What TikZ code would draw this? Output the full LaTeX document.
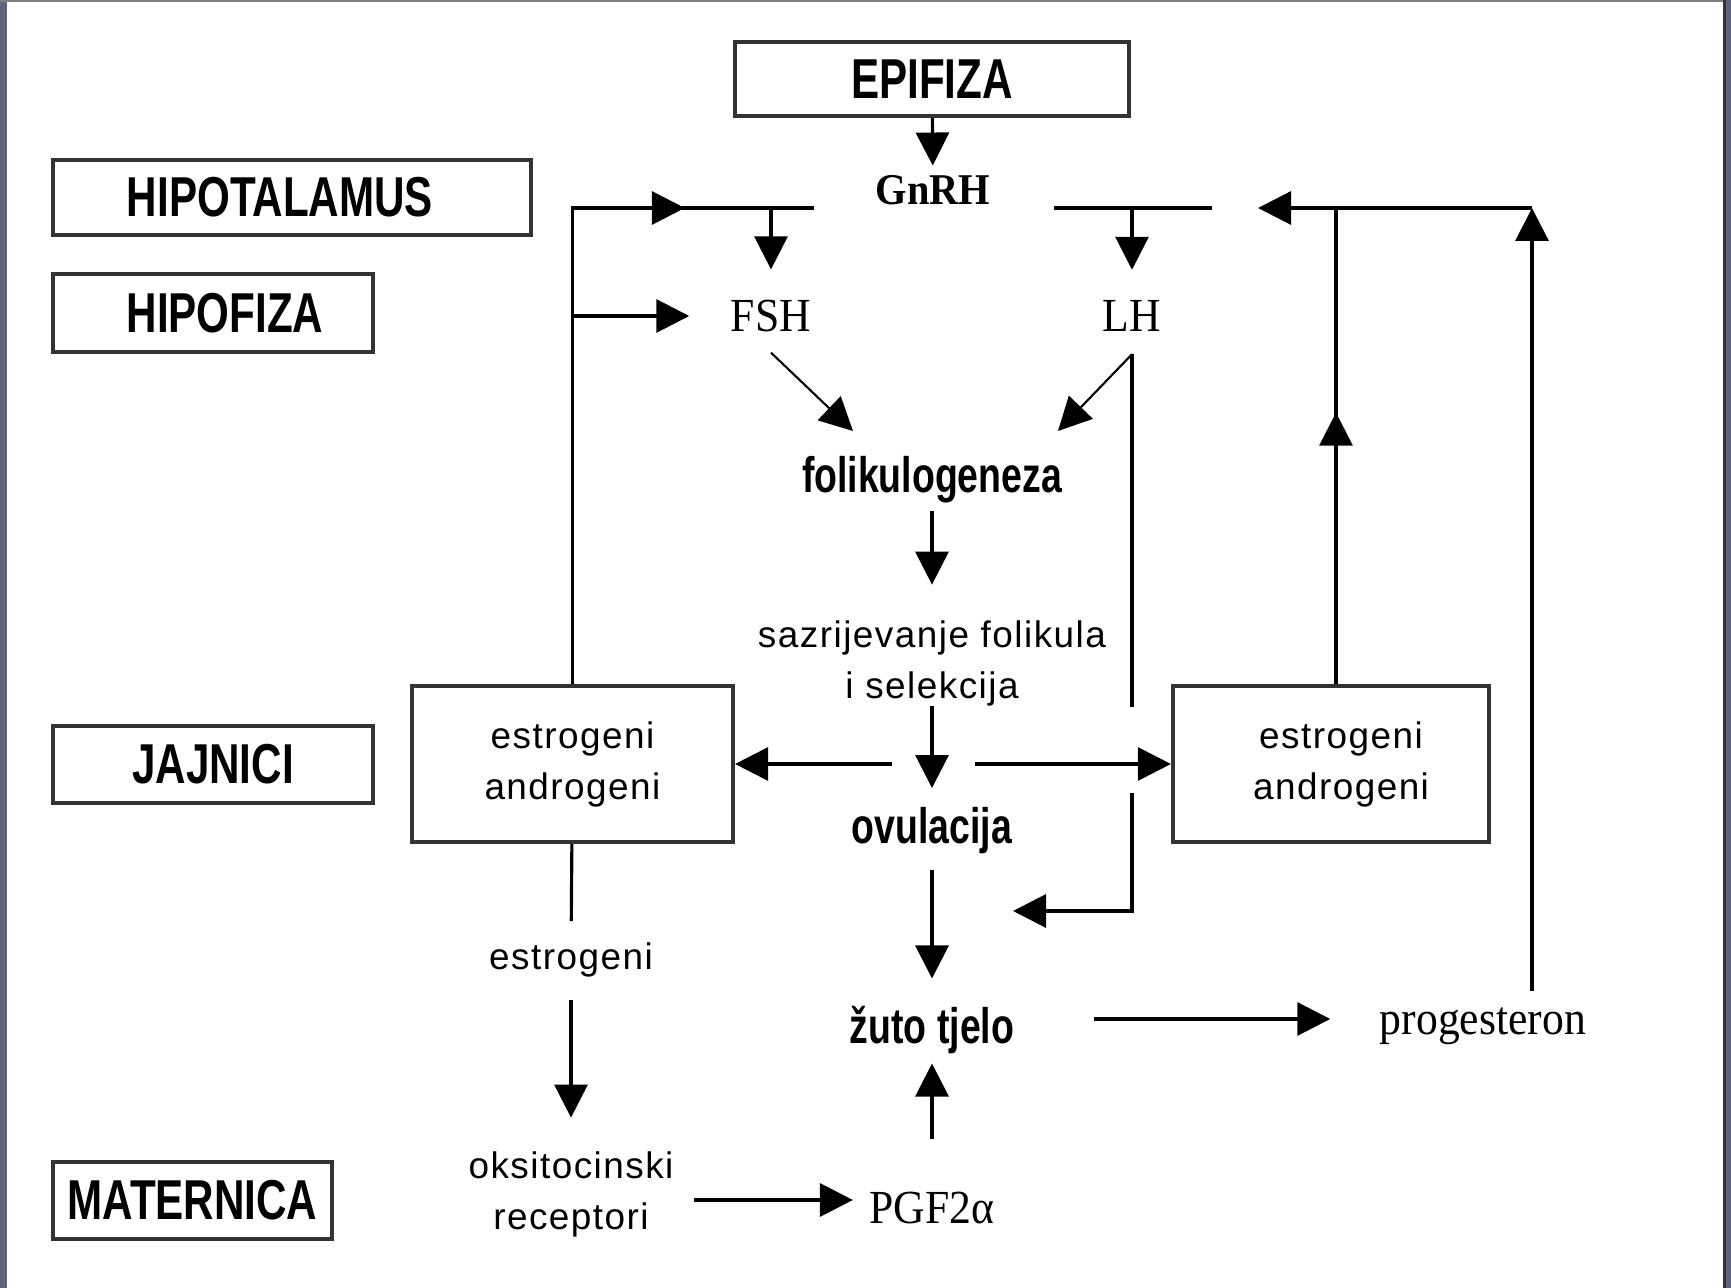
\documentclass[tikz,border=0pt]{standalone}
\usepackage{fontspec}
\usetikzlibrary{arrows.meta,decorations.markings}

\newfontfamily\organfont[FakeStretch=0.75]{Liberation Sans}
\newfontfamily\procfont[LetterSpace=4]{Liberation Sans}
\newfontfamily\hormfont[FakeStretch=0.92]{Liberation Serif}

\definecolor{edge}{RGB}{95,100,125}

\tikzstyle{organ} = [draw=black!80, line width=1.2pt, rectangle, inner sep=0mm,
                     font=\organfont\bfseries\fontsize{16}{19}\selectfont]
\tikzstyle{gland} = [draw=black!80, line width=1.2pt, rectangle, inner sep=0mm,
                     align=center, font=\procfont\fontsize{10.5}{14.5}\selectfont]
\tikzstyle{proc}  = [inner sep=0mm, align=center,
                     font=\procfont\fontsize{10.5}{14.5}\selectfont]
\tikzstyle{stage} = [inner sep=0mm, font=\organfont\bfseries\fontsize{14.2}{17}\selectfont]
\tikzstyle{horm}  = [inner sep=0mm, font=\hormfont\fontsize{13.5}{16}\selectfont]
\tikzstyle{flow}  = [line width=0.9pt, ->]
\tikzset{midflow/.style={line width=0.9pt, postaction={decorate},
    decoration={markings, mark=at position #1 with {\arrow{>}}}}}

\begin{document}
\begin{tikzpicture}[>={Triangle[length=3.3mm,width=3.3mm]}]

\useasboundingbox (0,0) rectangle (17.31cm,-12.88cm);

% frame
\fill[edge] (0,0) rectangle (0.07cm,-12.88cm);
\fill[gray] (0,0) rectangle (17.31cm,-0.025cm);
\fill[black!80] (17.23cm,0) rectangle (17.26cm,-12.88cm);
\fill[edge] (17.26cm,0) rectangle (17.31cm,-12.88cm);

% organs
\node[organ,minimum width=3.94cm,minimum height=7.4mm]
     at (9.32cm,-0.79cm)
     (epi) {EPIFIZA};
\node[organ,minimum width=4.78cm,minimum height=7.5mm]
     at (2.92cm,-1.975cm)
     (hipot) {HIPOTALAMUS\hspace*{2.4mm}};
\node[organ,minimum width=3.2cm,minimum height=7.8mm]
     at (2.13cm,-3.13cm)
     (hipof) {\hspace*{2.4mm}HIPOFIZA};
\node[organ,minimum width=3.2cm,minimum height=7.7mm]
     at (2.13cm,-7.645cm)
     (jajn) {JAJNICI};
\node[organ,minimum width=2.79cm,minimum height=7.7mm]
     at (1.925cm,-12.005cm)
     (mat) {MATERNICA};

\node[gland,minimum width=3.21cm,minimum height=1.56cm]
     at (5.725cm,-7.64cm)
     (estL) {estrogeni\\androgeni};
\node[gland,minimum width=3.16cm,minimum height=1.56cm]
     at (13.31cm,-7.64cm)
     (estR) {\hspace*{2mm}estrogeni\\\hspace*{2mm}androgeni};

% hormones and stages
\node[horm,font=\hormfont\bfseries\fontsize{12.5}{15}\selectfont]
     at (9.33cm,-1.9cm) (gnrh) {GnRH};
\node[horm] at (7.71cm,-3.16cm) (fsh) {FSH};
\node[horm] at (11.32cm,-3.16cm) (lh) {LH};
\node[stage] at (9.32cm,-4.8cm) (foli) {folikulogeneza};
\node[proc] at (9.32cm,-6.63cm) (sazr) {sazrijevanje folikula\\i selekcija};
\node[stage] at (9.32cm,-8.31cm) (ovul) {ovulacija};
\node[stage] at (9.32cm,-10.3cm) (zuto) {žuto tjelo};
\node[horm] at (14.83cm,-10.26cm) (prog) {progesteron};
\node[proc] at (5.71cm,-9.6cm) (estro) {estrogeni};
\node[proc] at (5.71cm,-11.94cm) (oksi) {oksitocinski\\receptori};
\node[horm] at (9.32cm,-12.08cm) (pgf) {PGF2α};

\coordinate (barL) at (8.14cm,-2.08cm);
\coordinate (barR) at (10.54cm,-2.08cm);
\coordinate (barRR) at (12.12cm,-2.08cm);
\coordinate (corner) at (15.32cm,-2.08cm);
\coordinate (tipR) at (12.58cm,-2.08cm);
\coordinate (fsIn) at (8.53cm,-4.31cm);
\coordinate (lhIn) at (10.58cm,-4.31cm);
\coordinate (lhGapT) at (11.32cm,-7.07cm);
\coordinate (lhGapB) at (11.32cm,-7.93cm);
\coordinate (lhOut) at (10.13cm,-9.11cm);
\coordinate (ovL) at (8.92cm,-7.64cm);
\coordinate (ovR) at (9.75cm,-7.64cm);

% hypothalamus level
\draw[flow,shorten >=0.9mm] (epi) -- (gnrh);
\draw[midflow=0.82] (estL.north) |- (barL);
\draw[flow,shorten >=4.1mm] (estL.north |- fsh) -- (fsh);
\draw[flow,shorten >=3mm] (fsh |- barL) -- (fsh);
\draw[line width=0.9pt] (barR) -- (barRR);
\draw[flow,shorten >=3mm] (lh |- barL) -- (lh);

% FSH, LH
\draw[->,line width=0.6pt] ([yshift=-2mm]fsh.south) -- (fsIn);
\draw[->,line width=0.6pt] ([yshift=-2.2mm]lh.south) -- (lhIn);
\draw[line width=0.9pt] ([yshift=-2.2mm]lh.south) -- (lhGapT);
\draw[flow] (lhGapB) |- (lhOut);

% ovary
\draw[flow,shorten <=0.7mm,shorten >=3.5mm] (foli) -- (sazr);
\draw[flow,shorten >=1.9mm] (sazr) -- (ovul);
\draw[flow] (ovL) -- (ovL -| estL.east);
\draw[flow] (ovR) -- (ovR -| estR.west);
\draw[flow,shorten <=1.5mm,shorten >=2.7mm] (ovul) -- (zuto);
\draw[flow,shorten <=5.2mm,shorten >=0.9mm] (pgf) -- (zuto);
\draw[flow,shorten <=7.9mm,shorten >=4.9mm]
     ([yshift=1.1mm]zuto.east) -- ([yshift=1.1mm]zuto.east -| prog.west);
\draw[flow,shorten <=1.6mm] (prog.north -| corner) -- (corner);
\draw[flow] (corner) -- (tipR);
\draw[midflow=0.57] ([xshift=0.5mm]estR.north) -- ([xshift=0.5mm]estR.north |- corner);

% uterus
\draw[line width=0.9pt,shorten >=2.1mm] (estL) -- (estro);
\draw[flow,shorten <=2.2mm,shorten >=3.3mm] (estro) -- (oksi);
\draw[flow,shorten <=2mm,shorten >=1.6mm]
     ([yshift=-0.6mm]oksi.east) -- ([yshift=-0.6mm]oksi.east -| pgf.west);

\end{tikzpicture}
\end{document}
